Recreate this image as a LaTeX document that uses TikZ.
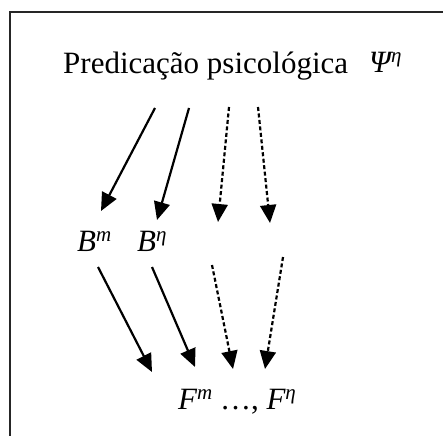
\documentclass[tikz,border=0pt]{standalone}
\usepackage{fontspec}
\setmainfont{Liberation Serif}
\usetikzlibrary{arrows.meta}
\newcommand{\supx}[1]{\raisebox{10pt}{\fontsize{21}{21}\selectfont #1}}
\tikzset{
  lbl/.style={inner sep=0pt, font=\fontsize{31}{36}\selectfont},
  solidarrow/.style={line width=2.2pt, -{Triangle[length=18pt,width=16pt]}},
  dasharrow/.style={line width=2.2pt, dash pattern=on 4pt off 2.5pt, -{Triangle[length=18pt,width=16pt]}},
  frame/.style={line width=2pt, draw=black!85}
}
\begin{document}
\begin{tikzpicture}[x=1pt,y=-1pt]
\useasboundingbox (0,0) rectangle (443,435);
\draw[frame] (10,436) -- (10,12.5) -- (444,12.5);
\node[lbl, anchor=base west] (title) at (63,74) {Predicação psicológica};
\node[inner sep=0pt, anchor=base west, font=\fontsize{31}{36}\selectfont\itshape] (psi) at (369,73) {Ψ\supx{η}};
\node[lbl, anchor=base west] (bm) at (77,251) {\itshape B\supx{m}};
\node[lbl, anchor=base west] (bn) at (137,251) {\itshape B\supx{η}};
\node[lbl, anchor=base west] (f) at (178,409) {\itshape F\supx{m}\upshape\ \dots, \itshape F\supx{η}};
% top row coordinates
\coordinate (t1s) at (155,108); \coordinate (t1e) at (101,211);
\coordinate (t2s) at (189,108); \coordinate (t2e) at (157,220);
\coordinate (t3s) at (229,107); \coordinate (t3e) at (218,222);
\coordinate (t4s) at (258,107); \coordinate (t4e) at (270,223);
% bottom row coordinates
\coordinate (b1s) at (98,267);  \coordinate (b1e) at (152,372);
\coordinate (b2s) at (152,267); \coordinate (b2e) at (195,367);
\coordinate (b3s) at (212,265); \coordinate (b3e) at (233,369);
\coordinate (b4s) at (283,257); \coordinate (b4e) at (265,369);
\draw[solidarrow] (t1s) -- (t1e);
\draw[solidarrow] (t2s) -- (t2e);
\draw[dasharrow] (t3s) -- (t3e);
\draw[dasharrow] (t4s) -- (t4e);
\draw[solidarrow] (b1s) -- (b1e);
\draw[solidarrow] (b2s) -- (b2e);
\draw[dasharrow] (b3s) -- (b3e);
\draw[dasharrow] (b4s) -- (b4e);
\end{tikzpicture}
\end{document}
